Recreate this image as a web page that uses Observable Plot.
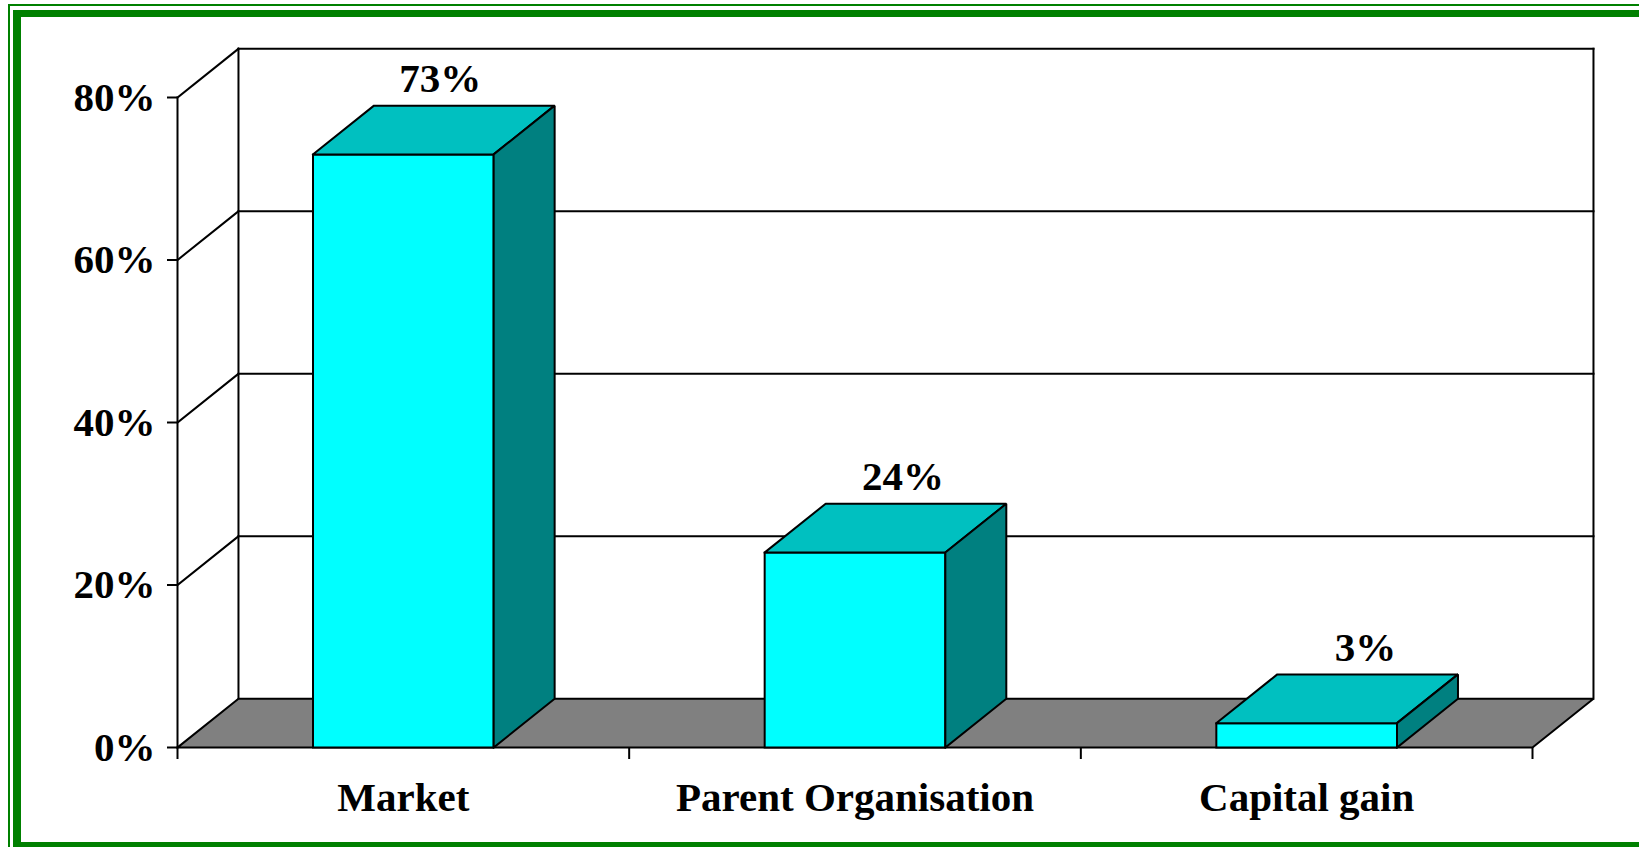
<!DOCTYPE html>
<html>
<head>
<meta charset="utf-8">
<script src="https://cdn.jsdelivr.net/npm/d3@7"></script>
<script src="https://cdn.jsdelivr.net/npm/@observablehq/plot@0.6"></script>
<style>
  html, body { margin: 0; padding: 0; background: #fff; overflow: hidden; width: 1639px; height: 847px; }
  #chart { position: absolute; left: 0; top: 0; }
  .frame-thin { position: absolute; left: 8px; top: 4px; width: 2000px; height: 2000px; border: 2px solid #008000; box-sizing: border-box; pointer-events: none; }
  .frame-thick { position: absolute; left: 13px; top: 10px; width: 2000px; height: 840px; border-style: solid; border-color: #008000; border-width: 7px 8px 8px 8px; box-sizing: border-box; pointer-events: none; }
</style>
</head>
<body>
<div id="chart"></div>
<div class="frame-thin"></div>
<div class="frame-thick"></div>
<script>
// ---- data ----
const categories = ["Market", "Parent Organisation", "Capital gain"];
const values = [73, 24, 3];
const valueLabels = ["73%", "24%", "3%"];
const yTicks = [0, 20, 40, 60, 80];

// ---- 3D projection parameters (style) ----
const N = categories.length;
const YMAX = 80;
const DX = 0.135;   // depth along x, in category units
const DY = 6;       // depth along y, in percentage units
const BAR_L = 0.3, BAR_R = 0.7;

const poly = (id, pts) => pts.concat([pts[0]]).map(([x, y]) => ({id, x, y}));

const floor = poly("floor", [[0, 0], [N, 0], [N + DX, DY], [DX, DY]]);

const fronts = [], tops = [], sides = [];
values.forEach((v, i) => {
  const l = i + BAR_L, r = i + BAR_R;
  fronts.push(...poly("f" + i, [[l, 0], [r, 0], [r, v], [l, v]]));
  tops.push(...poly("t" + i, [[l, v], [r, v], [r + DX, v + DY], [l + DX, v + DY]]));
  sides.push(...poly("s" + i, [[r, 0], [r + DX, DY], [r + DX, v + DY], [r, v]]));
});

const wall = [];
yTicks.filter(t => t > 0).forEach(t => {
  wall.push({id: "g" + t, x: DX, y: t + DY}, {id: "g" + t, x: N + DX, y: t + DY});
  wall.push({id: "d" + t, x: 0, y: t}, {id: "d" + t, x: DX, y: t + DY});
});
wall.push({id: "vf", x: 0, y: 0}, {id: "vf", x: 0, y: YMAX});
wall.push({id: "vb", x: DX, y: DY}, {id: "vb", x: DX, y: YMAX + DY});
wall.push({id: "vr", x: N + DX, y: DY}, {id: "vr", x: N + DX, y: YMAX + DY});

const font = "'Liberation Serif', 'Times New Roman', serif";
const lineOpts = {x: "x", y: "y", z: "id", stroke: "black", strokeWidth: 2, strokeLinejoin: "miter", strokeLinecap: "square"};

const chart = Plot.plot({
  width: 1639,
  height: 847,
  marginLeft: 177,
  marginRight: 107,
  marginTop: 97,
  marginBottom: 100,
  style: {background: "transparent", fontFamily: font, fontWeight: "bold", fontSize: "41px", color: "black", overflow: "visible"},
  x: {domain: [0, N], label: null, axis: null},
  y: {domain: [0, YMAX], label: null, axis: null},
  marks: [
    Plot.line(wall, {...lineOpts, fill: "none"}),
    Plot.line(floor, {...lineOpts, fill: "#808080"}),
    Plot.line(fronts, {...lineOpts, fill: "#00FFFF"}),
    Plot.line(tops, {...lineOpts, fill: "#00C0C0"}),
    Plot.line(sides, {...lineOpts, fill: "#008080"}),
    Plot.axisY(yTicks, {tickSize: 10, tickPadding: 12, strokeWidth: 2, tickFormat: d => d + "%", label: null}),
    Plot.axisX(d3.range(N + 1), {tickSize: 12, strokeWidth: 2, tickFormat: () => "", label: null}),
    Plot.axisX(categories.map((c, i) => i + 0.5), {tickSize: 0, tickPadding: 34, tickFormat: d => categories[Math.floor(d)], label: null}),
    Plot.text(values, {
      x: (d, i) => i + 0.582 + 0.024 * i,
      y: d => d + DY,
      text: (d, i) => valueLabels[i],
      dy: -27,
      fontSize: 41,
      fontWeight: "bold",
      fill: "black"
    })
  ]
});
document.getElementById("chart").appendChild(chart);
</script>
</body>
</html>
